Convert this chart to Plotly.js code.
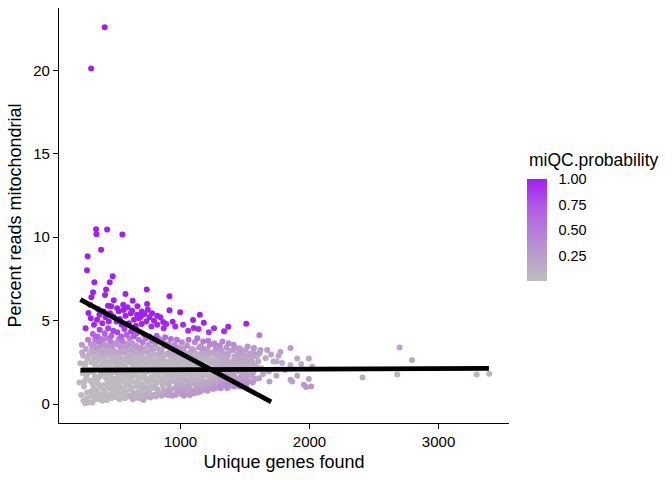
<!DOCTYPE html>
<html>
<head>
<meta charset="utf-8">
<script src="https://cdn.plot.ly/plotly-3.0.1.min.js"></script>
<style>html,body{margin:0;padding:0;background:#fff;}#chart{width:672px;height:480px;}</style>
</head>
<body>
<div id="chart"></div>
<script>
// Each cell: [unique genes, percent mito, miQC.probability]
const outlierCells = [
  [413,22.58,1.0],[308,20.10,1.0],[346,10.48,1.0],[349,10.18,1.0],[432,10.46,1.0],[550,10.16,1.0],
  [385,9.25,1.0],[281,8.86,1.0],[276,8.02,1.0],[475,7.66,1.0],[333,7.30,1.0],[452,7.30,1.0],
  [323,6.70,1.0],[424,6.86,1.0],[739,6.86,1.0],[416,6.54,1.0],[574,6.60,1.0],[915,6.46,1.0],
  [483,6.22,1.0],[630,6.20,1.0],[556,5.96,1.0],[667,5.86,1.0],[742,6.00,1.0],[287,5.46,1.0],
  [439,5.90,1.0],[463,5.86,1.0],[522,5.56,1.0],[560,5.64,1.0],[747,5.66,1.0],[915,5.62,1.0],
  [998,5.50,1.0],[1150,5.35,1.0],[354,5.06,0.99],[664,5.36,1.0],[694,5.26,1.0],[866,4.92,0.99],
  [940,4.93,0.99],[1098,5.04,0.99],[1181,4.88,0.99],[1510,4.82,0.98],[1370,4.64,0.97],
  [1338,4.36,0.95],[1103,4.56,0.97],[310,6.40,1.0]
];
const purpleCells = [
  [480,5.25,0.99],[505,4.95,0.98],[530,5.10,0.99],[545,4.75,0.97],[575,5.30,0.99],[600,4.85,0.98],
  [615,5.45,1.0],[640,5.05,0.99],[655,4.70,0.97],[680,5.15,0.99],[700,4.80,0.98],[720,5.40,0.99],
  [735,4.95,0.98],[760,5.20,0.99],[775,4.65,0.96],[795,5.00,0.98],[820,4.75,0.97],[845,5.20,0.99],
  [870,4.55,0.95],[890,4.80,0.97],[960,4.65,0.96],[1020,4.75,0.97],[1060,4.40,0.93],[1140,4.50,0.94],
  [1220,4.30,0.90],[1260,4.55,0.93],[395,4.85,0.97],[420,5.20,0.99],[445,4.95,0.98],[372,5.35,0.99],
  [330,4.75,0.97],[305,5.15,0.99],[300,5.95,1.0],[360,5.70,1.0],[405,5.55,1.0],[455,5.45,1.0],
  [510,5.75,1.0],[590,5.80,1.0],[625,5.60,1.0],[700,5.55,1.0],[780,5.45,1.0],[820,5.30,0.99],
  [265,4.55,0.95]
];
const coreLowCells = [
  [217,1.30,0.03],[224,2.45,0.06],[231,0.55,0.03],[238,3.10,0.18],[243,1.85,0.03],[248,0.20,0.04],[236,3.55,0.3],[246,2.90,0.1],
  [253,1.05,0.03],[259,2.20,0.03],[262,0.05,0.04],[267,3.30,0.18],[271,1.60,0.03],[276,0.70,0.03],[280,2.70,0.06],[284,3.85,0.5],[289,0.10,0.04],[293,2.05,0.03],[297,3.05,0.1],
  [302,1.40,0.03],[305,3.60,0.3],[309,0.45,0.03],[311,2.50,0.06],[314,1.95,0.03],[318,0.10,0.04],[321,4.20,0.7],[325,3.15,0.18],[328,0.95,0.03],[332,2.85,0.1],[336,1.70,0.03],[339,3.90,0.5],[343,0.60,0.03],[346,2.25,0.03],[349,3.40,0.3],
  [351,0.85,0.03],[353,2.60,0.06],[356,4.05,0.7],[358,1.25,0.03],[361,3.30,0.18],[363,0.30,0.04],[366,2.10,0.03],[368,3.75,0.5],[371,1.60,0.03],[374,4.45,0.85],[376,0.60,0.03],[379,2.95,0.1],[382,1.95,0.03],[385,3.55,0.3],[388,1.05,0.03],[391,2.40,0.06],[395,0.20,0.04],[398,3.10,0.18],
  [401,1.80,0.03],[403,3.65,0.3],[405,0.40,0.03],[408,2.75,0.06],[410,1.15,0.03],[413,4.25,0.7],[415,2.20,0.03],[418,0.75,0.03],[420,3.35,0.18],[423,1.55,0.03],[426,2.95,0.1],[428,3.95,0.5],[431,0.25,0.04],[434,2.50,0.06],[437,1.35,0.03],[440,4.55,0.85],[443,3.15,0.18],[446,1.95,0.03],[449,0.95,0.03],
  [451,2.35,0.03],[453,0.55,0.03],[455,3.80,0.5],[458,1.70,0.03],[460,2.85,0.1],[463,0.35,0.03],[465,4.10,0.7],[468,1.20,0.03],[470,3.45,0.3],[473,2.05,0.03],[475,0.85,0.03],[478,2.65,0.06],[480,4.40,0.85],[483,1.50,0.03],[486,3.20,0.18],[488,0.45,0.03],[491,2.45,0.06],[494,3.65,0.3],[497,1.05,0.03],
  [501,3.05,0.1],[503,1.30,0.03],[506,0.40,0.03],[508,2.60,0.06],[511,4.30,0.85],[513,1.85,0.03],[516,3.55,0.3],[518,0.75,0.03],[521,2.20,0.03],[523,3.90,0.5],[526,1.10,0.03],[528,2.90,0.1],[531,0.30,0.04],[534,1.65,0.03],[536,3.30,0.18],[539,2.40,0.06],[542,4.05,0.7],[545,0.95,0.03],[548,2.00,0.03],
  [551,1.45,0.03],[553,3.75,0.5],[556,0.60,0.03],[558,2.30,0.03],[561,3.10,0.18],[563,1.00,0.03],[566,4.50,0.85],[568,2.70,0.06],[571,0.35,0.04],[573,1.80,0.03],[576,3.45,0.3],[578,2.15,0.03],[581,0.80,0.03],[583,4.15,0.7],[586,2.95,0.1],[589,1.25,0.03],[591,3.60,0.3],[594,2.50,0.06],[597,0.50,0.03]
];
const coreMidCells = [
  [601,2.75,0.06],[603,1.15,0.03],[606,3.95,0.5],[608,0.45,0.12],[611,2.05,0.03],[613,3.30,0.18],[616,1.60,0.03],[618,4.35,0.85],[621,0.85,0.05],[623,2.45,0.06],[626,3.65,0.3],[628,1.35,0.03],[631,0.30,0.12],[633,2.90,0.1],[636,1.90,0.03],[639,4.05,0.7],[641,3.15,0.18],[644,0.65,0.06],[647,2.25,0.03],
  [651,1.75,0.03],[653,0.40,0.12],[656,3.50,0.3],[658,2.60,0.06],[661,1.05,0.04],[663,4.25,0.7],[666,2.15,0.03],[668,0.70,0.06],[671,3.20,0.18],[673,1.45,0.03],[676,2.85,0.1],[678,3.85,0.5],[681,0.35,0.12],[683,2.40,0.06],[686,1.95,0.03],[689,3.40,0.3],[692,1.20,0.03],[696,0.90,0.05],
  [701,2.95,0.1],[703,0.55,0.12],[706,1.65,0.03],[708,3.70,0.5],[711,2.30,0.03],[713,0.25,0.15],[716,1.10,0.04],[718,4.15,0.7],[721,2.70,0.06],[723,1.85,0.03],[726,3.35,0.18],[728,0.80,0.08],[731,2.10,0.03],[733,3.95,0.5],[736,1.40,0.03],[739,2.50,0.06],[742,0.45,0.14],[746,3.10,0.18],
  [751,1.95,0.03],[753,3.55,0.3],[756,0.65,0.1],[758,2.35,0.03],[761,1.25,0.04],[763,4.05,0.7],[766,2.85,0.1],[768,0.40,0.16],[771,1.60,0.03],[773,3.25,0.18],[776,2.15,0.03],[778,0.95,0.06],[781,3.80,0.5],[783,2.55,0.06],[786,1.40,0.03],[789,3.00,0.1],[793,0.55,0.15],
  [801,2.45,0.06],[803,1.05,0.07],[806,3.65,0.35],[808,0.45,0.18],[811,1.85,0.03],[813,2.95,0.1],[816,4.10,0.7],[818,1.30,0.05],[821,2.20,0.03],[823,0.75,0.12],[826,3.35,0.2],[828,1.65,0.03],[831,2.70,0.06],[834,3.90,0.52],[837,0.55,0.16],[841,2.00,0.03],
  [851,1.50,0.04],[853,3.15,0.18],[856,0.50,0.2],[858,2.30,0.03],[861,3.75,0.45],[863,1.10,0.08],[866,2.80,0.08],[868,0.85,0.14],[871,1.90,0.03],[873,3.45,0.3],[876,2.50,0.06],[878,1.30,0.05],[881,4.00,0.62],[883,0.60,0.18],[886,2.10,0.03],[889,3.00,0.12],
  [901,1.70,0.05],[903,0.55,0.26],[906,2.55,0.05],[908,3.60,0.38],[911,1.20,0.12],[913,2.15,0.05],[916,3.15,0.2],[918,0.80,0.2],[921,1.95,0.05],[923,2.85,0.1],[926,3.90,0.6],[928,1.45,0.1],[931,2.40,0.05],[934,0.50,0.28],[937,3.35,0.25],
  [951,2.05,0.05],[953,3.55,0.38],[956,0.95,0.18],[958,1.60,0.08],[961,2.75,0.08],[963,0.55,0.28],[966,3.20,0.2],[968,1.30,0.12],[971,2.35,0.05],[973,3.85,0.55],[976,0.75,0.24],[978,1.85,0.05],[981,2.95,0.1],[984,1.10,0.15],[988,2.55,0.06],
  [1001,1.50,0.1],[1003,3.05,0.18],[1006,0.60,0.28],[1008,2.25,0.05],[1011,3.70,0.42],[1013,1.20,0.14],[1016,2.65,0.07],[1018,0.85,0.22],[1021,1.90,0.05],[1023,3.35,0.28],[1026,2.45,0.05],[1028,0.50,0.3],[1031,1.65,0.07],[1034,2.90,0.1],[1037,1.05,0.18],
  [1051,2.15,0.05],[1053,3.50,0.36],[1056,0.70,0.26],[1058,1.40,0.12],[1061,2.70,0.08],[1063,3.85,0.58],[1066,1.00,0.2],[1068,1.85,0.05],[1071,3.10,0.18],[1073,0.55,0.3],[1076,2.40,0.05],[1078,1.25,0.14],[1081,2.95,0.1],[1085,1.60,0.08]
];
const coreHighCells = [
  [1101,3.25,0.22],[1103,1.55,0.09],[1106,0.65,0.28],[1108,2.20,0.05],[1111,3.70,0.45],[1113,1.15,0.16],[1116,2.60,0.07],[1118,0.85,0.24],[1121,1.95,0.05],[1123,3.00,0.14],[1126,1.35,0.12],[1128,2.40,0.05],[1131,3.95,0.62],[1135,0.70,0.28],
  [1151,1.80,0.06],[1153,2.85,0.1],[1156,0.75,0.27],[1158,3.45,0.32],[1161,1.30,0.13],[1163,2.25,0.05],[1166,0.95,0.22],[1168,3.10,0.18],[1171,1.65,0.08],[1173,2.55,0.06],[1176,3.75,0.5],[1178,1.10,0.18],[1182,2.00,0.05],
  [1201,2.70,0.08],[1203,1.00,0.22],[1206,3.30,0.26],[1208,1.75,0.07],[1211,0.80,0.28],[1213,2.30,0.05],[1216,3.80,0.52],[1218,1.40,0.12],[1221,2.95,0.12],[1223,1.15,0.18],[1226,2.05,0.05],[1228,3.55,0.38],[1232,1.60,0.09],
  [1251,1.90,0.07],[1253,0.90,0.28],[1256,3.05,0.18],[1258,2.45,0.07],[1261,1.25,0.2],[1263,3.65,0.42],[1266,1.60,0.12],[1268,2.75,0.1],[1271,0.95,0.26],[1273,2.15,0.06],[1276,3.35,0.28],[1279,1.45,0.15],
  [1301,2.30,0.12],[1303,1.05,0.35],[1306,3.50,0.38],[1308,1.70,0.22],[1311,2.85,0.15],[1313,0.95,0.36],[1316,2.05,0.14],[1318,3.20,0.25],[1321,1.35,0.28],[1323,2.55,0.14],[1326,3.75,0.42],[1329,1.90,0.16],
  [1351,1.15,0.34],[1353,2.70,0.15],[1356,3.40,0.3],[1358,1.55,0.24],[1361,2.20,0.12],[1363,0.95,0.37],[1366,3.05,0.22],[1368,1.85,0.18],[1371,2.50,0.14],[1374,3.65,0.4],[1378,1.30,0.3],
  [1401,2.00,0.14],[1403,1.10,0.36],[1406,3.25,0.25],[1408,2.60,0.15],[1411,1.45,0.26],[1413,3.55,0.36],[1416,1.80,0.18],[1418,2.85,0.16],[1421,1.05,0.36],[1425,2.30,0.12],
  [1451,2.75,0.15],[1453,1.25,0.32],[1456,3.35,0.28],[1458,1.95,0.16],[1461,1.05,0.36],[1463,2.45,0.14],[1466,1.60,0.24],[1468,3.05,0.22],[1472,2.15,0.13],
  [1501,1.40,0.28],[1503,2.60,0.15],[1506,3.25,0.25],[1508,1.85,0.18],[1511,1.15,0.34],[1513,2.90,0.18],[1516,2.25,0.12],[1521,3.45,0.3],
  [1553,1.70,0.22],[1557,2.85,0.17],[1561,1.30,0.3],[1566,2.35,0.13],[1569,3.35,0.27],[1574,2.05,0.15],
  [1604,2.55,0.15],[1609,1.55,0.25],[1613,3.05,0.22],[1620,3.25,0.25],[1626,2.15,0.14]
];
const coreFillCells = [
  [256,1.35,0.03],[264,2.45,0.06],[273,0.35,0.04],[282,1.85,0.03],[291,2.95,0.1],
  [306,0.75,0.03],[313,2.05,0.03],[319,1.20,0.03],[327,2.65,0.06],[334,0.30,0.04],[340,1.55,0.03],[345,3.00,0.1],[331,3.60,0.3],[316,3.35,0.2],[338,2.35,0.04],
  [355,1.45,0.03],[362,2.25,0.03],[369,0.45,0.04],[377,2.75,0.06],[384,1.75,0.03],[389,3.25,0.18],[396,0.95,0.03],[359,3.00,0.1],[373,1.15,0.03],[392,3.90,0.5],
  [406,2.00,0.03],[412,0.55,0.03],[419,2.60,0.06],[427,1.05,0.03],[433,1.70,0.03],[439,3.50,0.3],[445,2.30,0.03],[410,3.05,0.1],[424,2.10,0.03],[447,0.45,0.04],
  [456,1.35,0.03],[462,2.55,0.06],[469,0.65,0.03],[477,1.90,0.03],[484,2.95,0.1],[489,1.20,0.03],[495,2.20,0.03],[460,3.60,0.3],[474,3.00,0.1],[493,0.70,0.03],
  [506,1.55,0.03],[512,2.75,0.06],[519,0.55,0.03],[527,2.30,0.03],[533,1.35,0.03],[539,3.45,0.3],[545,1.75,0.03],[510,0.90,0.03],[524,3.10,0.18],[547,2.70,0.06],
  [556,2.00,0.03],[562,0.85,0.03],[569,2.45,0.06],[577,1.20,0.03],[584,3.25,0.18],[589,1.60,0.03],[595,2.85,0.1],[560,1.60,0.03],[574,2.65,0.06],[593,1.95,0.03],
  [606,1.40,0.03],[612,2.65,0.06],[619,1.00,0.04],[627,2.15,0.03],[634,0.55,0.1],[640,1.70,0.03],[645,3.50,0.3],[610,1.85,0.03],[624,3.05,0.1],[647,2.55,0.06],
  [656,1.30,0.03],[662,2.90,0.1],[669,1.95,0.03],[677,0.55,0.1],[684,1.60,0.03],[689,2.65,0.06],[695,3.10,0.18],[660,2.35,0.03],[674,1.05,0.04],[693,2.20,0.03],
  [706,2.05,0.03],[712,1.25,0.03],[719,3.20,0.18],[727,1.55,0.03],[734,2.75,0.06],[740,0.95,0.06],[745,2.00,0.03],[710,2.60,0.06],[724,0.55,0.12],[747,1.35,0.03],
  [756,1.45,0.03],[762,2.60,0.06],[769,2.00,0.03],[777,3.40,0.25],[784,1.05,0.05],[789,2.30,0.03],[795,1.75,0.03],[760,0.85,0.07],[774,2.75,0.06],[793,3.30,0.2],
  [806,1.60,0.03],[812,2.60,0.06],[819,0.90,0.1],[827,2.40,0.06],[834,1.40,0.04],[840,3.10,0.15],[845,0.70,0.14],[810,2.10,0.03],[824,1.85,0.03],[847,2.80,0.08],
  [856,2.05,0.04],[862,2.65,0.06],[869,1.60,0.04],[877,3.60,0.38],[884,1.35,0.05],[889,2.35,0.04],[895,0.75,0.16],[860,1.25,0.06],[874,2.15,0.04],[893,1.75,0.04],
  [906,1.95,0.05],[912,0.95,0.17],[919,2.30,0.05],[927,1.35,0.1],[934,3.05,0.16],[940,1.75,0.06],[945,2.70,0.08],[910,2.95,0.1],[924,0.65,0.25],[947,2.05,0.05],
  [956,2.40,0.05],[962,1.45,0.1],[969,1.95,0.05],[977,2.60,0.06],[984,3.40,0.3],[989,0.85,0.2],[995,2.20,0.05],[960,3.00,0.13],[974,1.15,0.15],[993,1.65,0.07],
  [1006,1.95,0.05],[1012,2.75,0.08],[1019,1.35,0.12],[1027,3.10,0.18],[1034,0.75,0.25],[1040,2.15,0.05],[1045,1.60,0.08],[1010,0.95,0.2],[1024,2.05,0.05],[1047,2.55,0.06],
  [1056,1.65,0.08],[1062,2.30,0.05],[1069,2.85,0.08],[1077,0.85,0.22],[1084,2.20,0.05],[1089,3.30,0.25],[1095,1.35,0.12],[1060,1.15,0.16],[1074,1.95,0.05],[1093,2.60,0.06],
  [1106,1.80,0.06],[1112,2.80,0.09],[1119,1.55,0.09],[1127,2.15,0.05],[1134,1.05,0.18],[1140,2.75,0.08],[1145,3.40,0.3],[1110,2.45,0.05],[1124,0.90,0.22],[1147,1.85,0.06],
  [1156,2.40,0.05],[1162,1.50,0.1],[1169,3.35,0.28],[1177,2.20,0.05],[1184,1.35,0.12],[1189,2.75,0.08],[1195,0.85,0.25],[1160,2.95,0.12],[1174,1.90,0.06],[1193,3.05,0.16],
  [1206,2.15,0.05],[1212,1.25,0.15],[1219,2.50,0.06],[1227,1.85,0.07],[1234,3.10,0.18],[1240,1.45,0.11],[1245,2.65,0.08],[1210,2.90,0.1],[1224,0.95,0.24],[1247,2.05,0.06],
  [1256,1.15,0.22],[1262,2.30,0.06],[1269,3.20,0.22],[1277,1.75,0.1],[1284,2.55,0.08],[1289,1.35,0.18],[1295,2.95,0.13],[1260,2.05,0.06],[1274,3.50,0.35],[1293,2.20,0.08],
  [1306,2.05,0.13],[1312,1.45,0.25],[1319,2.65,0.14],[1327,1.15,0.32],[1334,3.00,0.2],[1340,2.35,0.13],[1345,1.65,0.22],[1310,3.25,0.26],[1324,2.15,0.13],[1347,2.85,0.15],
  [1356,2.00,0.14],[1362,1.35,0.28],[1369,2.90,0.16],[1377,2.20,0.13],[1384,1.70,0.2],[1389,3.20,0.24],[1395,2.45,0.14],[1360,2.65,0.15],[1374,1.05,0.36],[1393,1.95,0.15],
  [1406,1.65,0.22],[1412,2.45,0.14],[1419,1.30,0.3],[1427,2.75,0.15],[1434,2.05,0.14],[1440,3.00,0.2],[1445,1.55,0.24],[1410,2.20,0.13],[1424,3.35,0.28],[1447,2.55,0.15],
  [1456,2.30,0.13],[1462,1.45,0.26],[1469,2.60,0.15],[1477,1.80,0.18],[1484,3.20,0.24],[1489,2.40,0.14],[1495,1.25,0.32],[1460,3.30,0.26],[1474,2.05,0.14],[1493,2.85,0.16],
  [1506,2.05,0.14],[1512,1.60,0.24],[1519,2.45,0.14],[1527,2.75,0.16],[1534,1.35,0.3],[1540,2.25,0.13],[1545,3.05,0.22],[1528,1.90,0.16],
  [1556,2.55,0.15],[1563,1.85,0.18],[1571,3.05,0.22],[1578,1.50,0.25],[1585,2.25,0.13],[1592,2.85,0.16]
];
const tailCells = [
  [1612,4.12,0.5],[1568,3.37,0.27],[1703,2.98,0.2],[1775,3.12,0.22],[1853,3.37,0.26],[1905,2.74,0.18],
  [1995,2.74,0.18],[1936,2.40,0.14],[2021,2.26,0.12],[1788,2.46,0.14],[1853,2.34,0.12],[1744,1.70,0.2],
  [1853,1.46,0.24],[1866,1.36,0.26],[1905,1.70,0.2],[1995,1.50,0.22],[1956,1.16,0.28],[1974,1.03,0.3],
  [2013,1.06,0.3],[2411,1.60,0.15],[2698,3.40,0.2],[2794,2.64,0.15],[2680,1.78,0.1],[3295,1.78,0.08],
  [3393,1.82,0.08],[1660,2.75,0.16],[1685,1.95,0.15],[1720,2.55,0.14],[1744,2.56,0.15],[1690,1.35,0.26],
  [1640,1.80,0.2],[1672,3.25,0.24],[1810,2.05,0.12],[1760,2.90,0.18]
];

// Fitted mixture-model lines
const flatFitGenes = [225, 3390];
const flatFitMito = [2.04, 2.14];
const steepFitGenes = [225, 1703];
const steepFitMito = [6.26, 0.14];

const colorbarTicks = [0.25, 0.5, 0.75, 1.0];
const colorbarLabels = ['0.25', '0.50', '0.75', '1.00'];
const xTicks = [1000, 2000, 3000];
const yTicks = [0, 5, 10, 15, 20];

const allCells = [].concat(outlierCells, purpleCells, coreLowCells, coreMidCells, coreHighCells, coreFillCells, tailCells)
  .slice().sort((a, b) => a[2] - b[2]);
const genes = allCells.map(c => c[0]);
const mito = allCells.map(c => c[1]);
const prob = allCells.map(c => c[2]);

const FONT = '"Liberation Sans", Arial, Helvetica, sans-serif';

const cells = {
  type: 'scatter', mode: 'markers', x: genes, y: mito, hoverinfo: 'skip', showlegend: false,
  marker: {
    size: 6, color: prob, cmin: 0, cmax: 1, line: {width: 0},
    colorscale: [[0, '#BEBEBE'], [0.25, '#BB9DCA'], [0.5, '#B77CD9'], [0.75, '#AF58E6'], [1, '#A020F0']],
    showscale: true,
    colorbar: {
      thickness: 20, thicknessmode: 'pixels', len: 102, lenmode: 'pixels',
      x: 1.04, xanchor: 'left', y: 0.342, yanchor: 'bottom', xpad: 0, ypad: 0,
      outlinewidth: 0, tickvals: colorbarTicks, ticktext: colorbarLabels,
      ticks: 'outside', ticklen: 9, tickcolor: 'rgba(0,0,0,0)', tickwidth: 1,
      tickfont: {family: FONT, size: 14.5, color: '#000'}
    }
  }
};
const flatLine = {type: 'scatter', mode: 'lines', x: flatFitGenes, y: flatFitMito, hoverinfo: 'skip', showlegend: false,
  line: {color: '#000', width: 4.8}};
const steepLine = {type: 'scatter', mode: 'lines', x: steepFitGenes, y: steepFitMito, hoverinfo: 'skip', showlegend: false,
  line: {color: '#000', width: 4.8}};

const layout = {
  width: 672, height: 480, paper_bgcolor: '#fff', plot_bgcolor: '#fff',
  margin: {l: 59, r: 163, t: 8, b: 57},
  font: {family: FONT, color: '#000'},
  showlegend: false,
  xaxis: {
    range: [59, 3546], showgrid: false, zeroline: false, showline: true, linecolor: '#000', linewidth: 1.1,
    ticks: 'outside', ticklen: 5, tickwidth: 1.1, tickcolor: '#000', tickvals: xTicks,
    tickfont: {family: FONT, size: 15, color: '#000'},
    title: {text: 'Unique genes found', font: {family: FONT, size: 18, color: '#000'}, standoff: 6}
  },
  yaxis: {
    range: [-1.13, 23.73], showgrid: false, zeroline: false, showline: true, linecolor: '#000', linewidth: 1.1,
    ticks: 'outside', ticklen: 5, tickwidth: 1.1, tickcolor: '#000', tickvals: yTicks,
    tickfont: {family: FONT, size: 15, color: '#000'},
    title: {text: 'Percent reads mitochondrial', font: {family: FONT, size: 18, color: '#000'}, standoff: 6}
  },
  annotations: [{
    text: 'miQC.probability', xref: 'paper', yref: 'paper', x: 1.04, y: 0.634,
    xanchor: 'left', yanchor: 'middle', showarrow: false,
    font: {family: FONT, size: 17.5, color: '#000'}
  }]
};

Plotly.newPlot('chart', [cells, flatLine, steepLine], layout, {displayModeBar: false, staticPlot: true});
</script>
</body>
</html>
